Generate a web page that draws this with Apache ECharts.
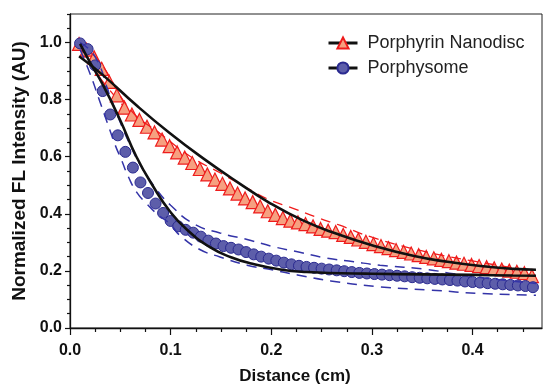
<!DOCTYPE html>
<html><head><meta charset="utf-8">
<script src="https://cdn.jsdelivr.net/npm/echarts@6/dist/echarts.min.js"></script>
<style>html,body{margin:0;padding:0;background:#fff}#c{width:544px;height:384px}</style>
</head><body><div id="c"></div>
<script>
// ---- data ----
const xMajorTicks = [0, 0.1, 0.2, 0.3, 0.4];
const xMinorTicks = [0.025,0.05,0.075,0.125,0.15,0.175,0.225,0.25,0.275,0.325,0.35,0.375,0.425,0.45];
const yMajorTicks = [0, 0.2, 0.4, 0.6, 0.8, 1.0];
const yMinorTicks = [0.05,0.1,0.15,0.25,0.3,0.35,0.45,0.5,0.55,0.65,0.7,0.75,0.85,0.9,0.95,1.05,1.1];

const porphX = [0.010,0.0175,0.025,0.0325,0.040,0.0475,0.055,0.0625,0.070,0.0775,0.085,0.0925,0.100,0.1075,0.115,0.1225,0.130,0.1375,0.145,0.1525,0.160,0.1675,0.175,0.1825,0.190,0.1975,0.205,0.2125,0.220,0.2275,0.235,0.2425,0.250,0.2575,0.265,0.2725,0.280,0.2875,0.295,0.3025,0.310,0.3175,0.325,0.3325,0.340,0.3475,0.355,0.3625,0.370,0.3775,0.385,0.3925,0.400,0.4075,0.415,0.4225,0.430,0.4375,0.445,0.4525,0.460];
const porphY = [0.997,0.977,0.92,0.83,0.748,0.675,0.617,0.562,0.510,0.473,0.436,0.403,0.375,0.356,0.344,0.334,0.320,0.306,0.296,0.287,0.281,0.275,0.266,0.258,0.250,0.243,0.236,0.229,0.223,0.218,0.214,0.211,0.208,0.205,0.202,0.199,0.196,0.193,0.191,0.189,0.187,0.185,0.183,0.181,0.178,0.176,0.174,0.172,0.170,0.168,0.166,0.163,0.161,0.159,0.157,0.155,0.153,0.151,0.149,0.147,0.143];

const nanoX = [0.009,0.0165,0.024,0.0315,0.039,0.0465,0.054,0.0615,0.069,0.0765,0.084,0.0915,0.099,0.1065,0.114,0.1215,0.129,0.1365,0.144,0.1515,0.159,0.1665,0.174,0.1815,0.189,0.1965,0.204,0.2115,0.219,0.2265,0.234,0.2415,0.249,0.2565,0.264,0.2715,0.279,0.2865,0.294,0.3015,0.309,0.3165,0.324,0.3315,0.339,0.3465,0.354,0.3615,0.369,0.3765,0.384,0.3915,0.399,0.4065,0.414,0.4215,0.429,0.4365,0.444,0.4515,0.459];
const nanoY = [0.995,0.975,0.948,0.908,0.862,0.815,0.772,0.748,0.729,0.705,0.685,0.660,0.637,0.615,0.597,0.578,0.557,0.538,0.520,0.505,0.489,0.471,0.454,0.441,0.426,0.409,0.396,0.385,0.376,0.370,0.364,0.356,0.347,0.341,0.336,0.326,0.319,0.310,0.302,0.294,0.287,0.280,0.273,0.267,0.261,0.255,0.249,0.244,0.239,0.234,0.229,0.225,0.221,0.217,0.213,0.209,0.205,0.201,0.197,0.192,0.182];

const porphFitX = [0.010,0.020,0.033,0.050,0.066,0.083,0.099,0.116,0.139,0.160,0.180,0.209,0.235,0.270,0.300,0.350,0.400,0.440,0.463];
const porphFitY = [0.995,0.930,0.850,0.727,0.600,0.494,0.410,0.345,0.283,0.248,0.226,0.205,0.196,0.192,0.190,0.188,0.186,0.184,0.183];

const nanoFitX = [0.009,0.033,0.066,0.099,0.132,0.166,0.199,0.232,0.265,0.300,0.342,0.375,0.408,0.441,0.463];
const nanoFitY = [0.952,0.885,0.780,0.683,0.595,0.512,0.437,0.376,0.330,0.290,0.252,0.232,0.217,0.207,0.204];

const porphUpX = [0.010,0.025,0.040,0.050,0.060,0.070,0.085,0.100,0.123,0.149,0.176,0.202,0.226,0.252,0.282,0.308,0.355,0.381,0.408,0.441,0.463];
const porphUpY = [1.000,0.950,0.810,0.720,0.640,0.570,0.490,0.430,0.365,0.333,0.310,0.285,0.267,0.247,0.232,0.220,0.205,0.190,0.177,0.164,0.156];
const porphLoX = [0.010,0.020,0.030,0.038,0.045,0.051,0.058,0.066,0.076,0.088,0.099,0.109,0.129,0.149,0.176,0.202,0.226,0.259,0.308,0.358,0.408,0.463];
const porphLoY = [0.975,0.890,0.790,0.710,0.640,0.590,0.530,0.477,0.436,0.395,0.366,0.325,0.275,0.249,0.220,0.203,0.186,0.165,0.144,0.133,0.121,0.115];

const nanoUpX = [0.010,0.030,0.060,0.090,0.120,0.150,0.174,0.197,0.221,0.245,0.268,0.300,0.350,0.400,0.460];
const nanoUpY = [1.000,0.930,0.765,0.680,0.600,0.542,0.494,0.451,0.420,0.388,0.360,0.318,0.270,0.235,0.200];
const nanoLoX = [0.010,0.050,0.100,0.150,0.200,0.250,0.300,0.350,0.400,0.460];
const nanoLoY = [0.975,0.790,0.625,0.495,0.400,0.338,0.282,0.240,0.208,0.175];

const zip = (xs, ys) => xs.map((x, i) => [x, ys[i]]);

const BOLD = {fontFamily: 'Liberation Sans, Arial, sans-serif', fontWeight: 'bold', color: '#111'};
const chart = echarts.init(document.getElementById('c'), null, {renderer: 'canvas'});
const dashBlue = {color: '#3434a8', width: 1.5, type: [10, 7]};
const dashRed = {color: '#f01c1c', width: 1.3, type: [10, 7]};

chart.setOption({
  animation: false,
  grid: {left: 70, right: 2, top: 14, bottom: 56, show: true, borderColor: '#222', borderWidth: 1,
         containLabel: false, outerBoundsMode: 'none'},
  legend: {
    orient: 'vertical', left: 322, top: 29, itemWidth: 29, itemHeight: 14, itemGap: 7,
    data: ['Porphyrin Nanodisc', 'Porphysome'],
    textStyle: {fontFamily: 'Liberation Sans, Arial, sans-serif', fontSize: 18, color: '#222', padding: [0, 0, 0, 5]},
    lineStyle: {color: '#111', width: 3, opacity: 1, type: 'solid'}
  },
  xAxis: [{
    type: 'value', min: 0, max: 0.469,
    name: 'Distance (cm)', nameLocation: 'middle', nameGap: 40,
    nameTextStyle: Object.assign({fontSize: 17, padding: [0, 22, 0, 0]}, BOLD),
    axisLine: {lineStyle: {color: '#111', width: 1.3}},
    axisTick: {show: true, length: 7, customValues: xMajorTicks, lineStyle: {color: '#111', width: 1.2}},
    axisLabel: {customValues: xMajorTicks, fontSize: 16, margin: 15, formatter: v => v.toFixed(1), ...BOLD},
    splitLine: {show: false}
  }, {
    type: 'value', min: 0, max: 0.469, position: 'bottom',
    axisLine: {show: false},
    axisTick: {show: true, length: 4, customValues: xMinorTicks, lineStyle: {color: '#111', width: 1.2}},
    axisLabel: {show: false}, splitLine: {show: false}
  }],
  yAxis: [{
    type: 'value', min: 0, max: 1.1,
    name: 'Normalized FL Intensity (AU)', nameLocation: 'middle', nameGap: 41,
    nameTextStyle: Object.assign({fontSize: 19}, BOLD),
    axisLine: {show: true, lineStyle: {color: '#111', width: 1.3}},
    axisTick: {show: true, length: 5, customValues: yMajorTicks, lineStyle: {color: '#111', width: 1.2}},
    axisLabel: {customValues: yMajorTicks, fontSize: 16, margin: 8, formatter: v => v.toFixed(1), ...BOLD},
    splitLine: {show: false}
  }, {
    type: 'value', min: 0, max: 1.1, position: 'left',
    axisLine: {show: false},
    axisTick: {show: true, length: 3, customValues: yMinorTicks, lineStyle: {color: '#111', width: 1.2}},
    axisLabel: {show: false}, splitLine: {show: false}
  }],
  series: [
    {name: 'nanoLo', type: 'line', data: zip(nanoLoX, nanoLoY), smooth: true, symbol: 'none', lineStyle: dashRed, z: 1, silent: true},
    {name: 'Porphyrin Nanodisc', type: 'line', data: zip(nanoX, nanoY), symbol: 'triangle', symbolSize: 13,
      itemStyle: {color: '#f6a080', borderColor: '#ee1c1c', borderWidth: 1.2}, lineStyle: {opacity: 0, color: '#111', width: 3}, z: 2},
    {name: 'nanoUp', type: 'line', data: zip(nanoUpX, nanoUpY), smooth: true, symbol: 'none', lineStyle: dashRed, z: 3, silent: true},
    {name: 'Porphysome', type: 'line', data: zip(porphX, porphY), symbol: 'circle', symbolSize: 11,
      itemStyle: {color: '#5d5eaa', borderColor: '#2a2a90', borderWidth: 1}, lineStyle: {opacity: 0, color: '#111', width: 3}, z: 4},
    {name: 'porphUp', type: 'line', data: zip(porphUpX, porphUpY), smooth: true, symbol: 'none', lineStyle: dashBlue, z: 5, silent: true},
    {name: 'porphLo', type: 'line', data: zip(porphLoX, porphLoY), smooth: true, symbol: 'none', lineStyle: dashBlue, z: 5, silent: true},
    {name: 'nanoFit', type: 'line', data: zip(nanoFitX, nanoFitY), smooth: true, symbol: 'none', lineStyle: {color: '#111', width: 2.6}, z: 6, silent: true},
    {name: 'porphFit', type: 'line', data: zip(porphFitX, porphFitY), smooth: true, symbol: 'none', lineStyle: {color: '#111', width: 2.6}, z: 6, silent: true}
  ]
});
</script></body></html>
